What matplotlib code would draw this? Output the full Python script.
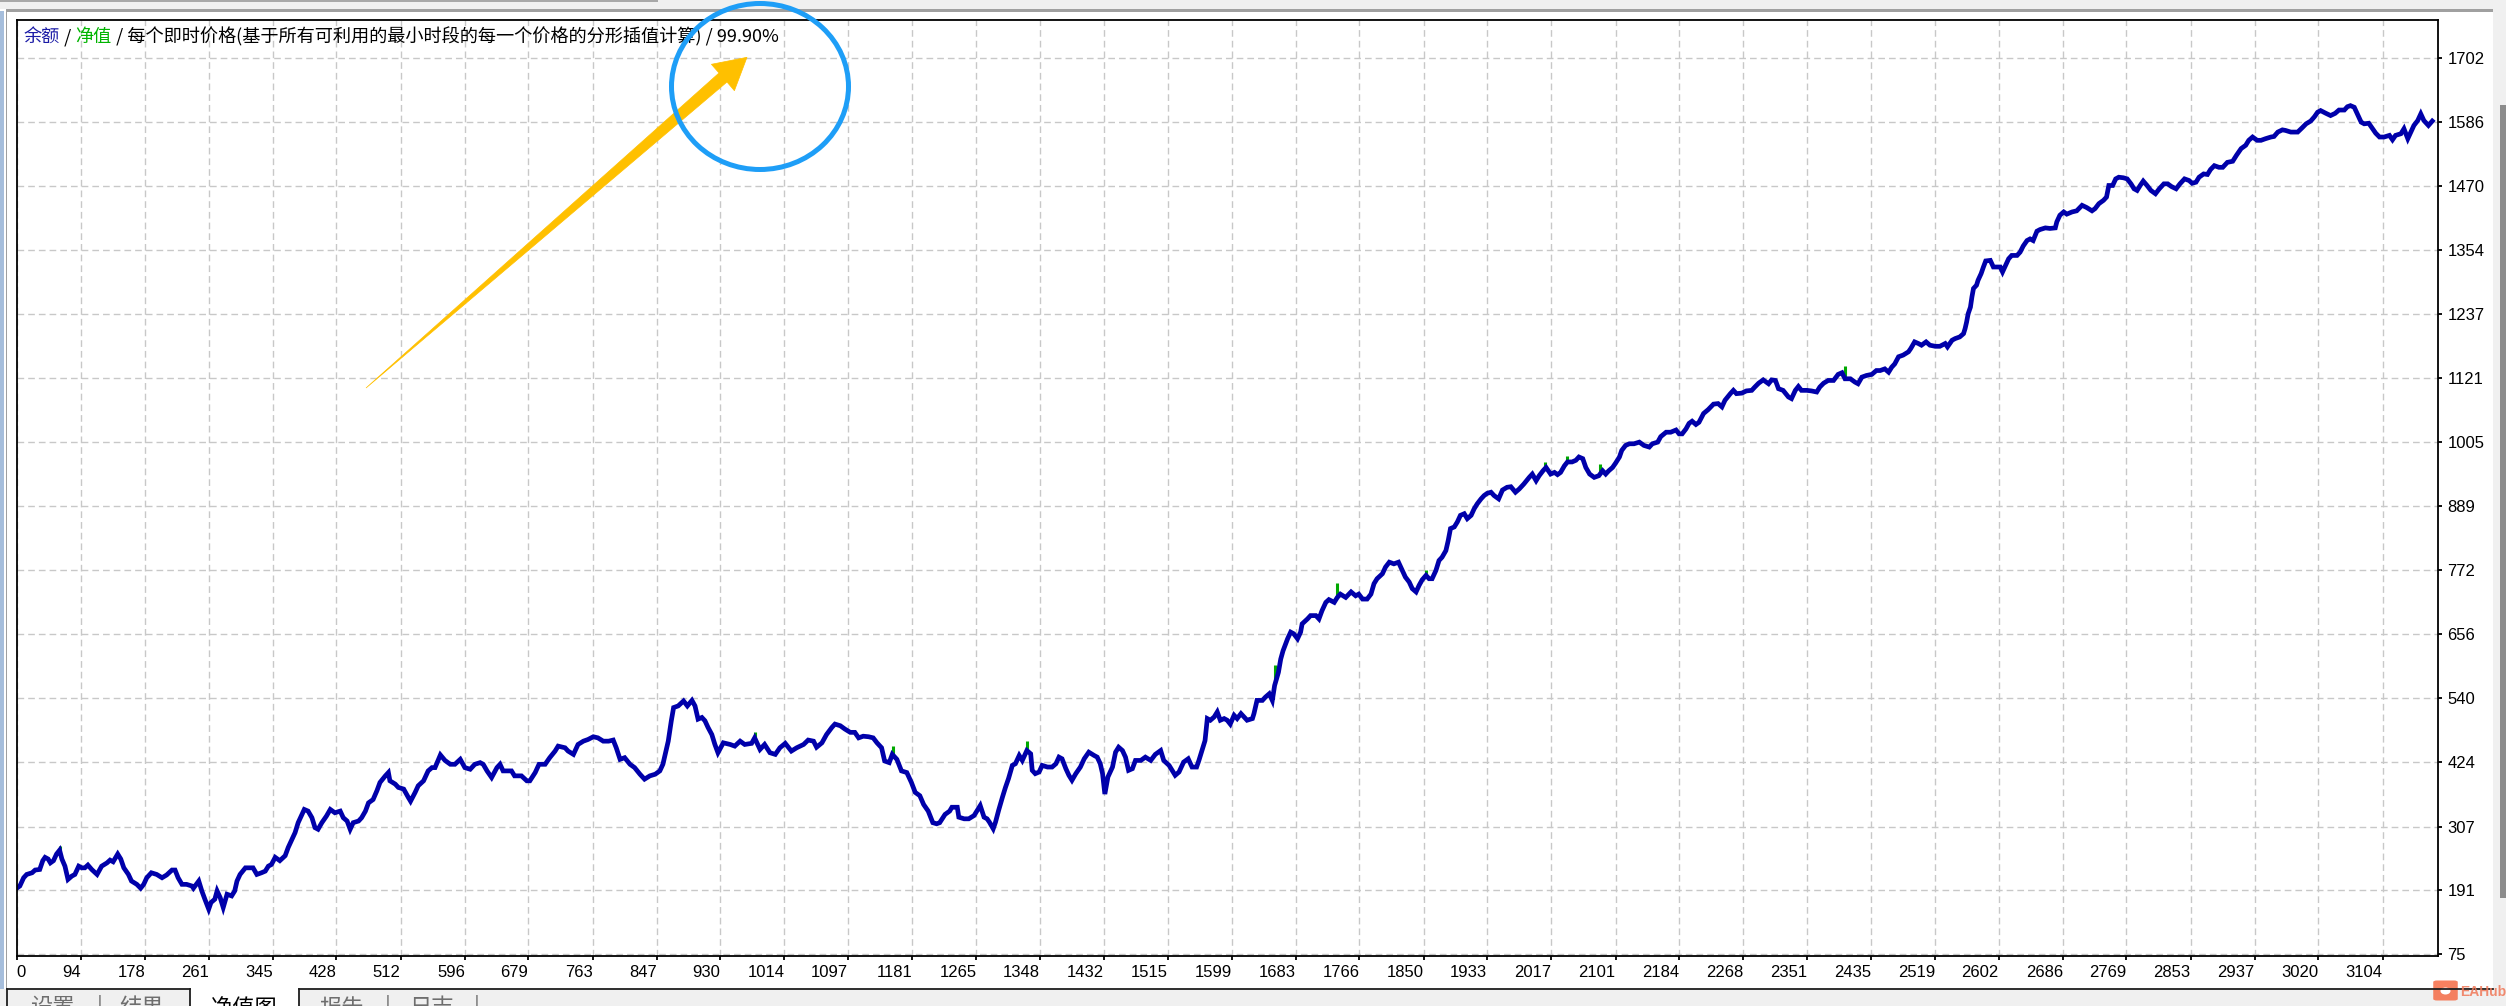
import matplotlib
matplotlib.use("Agg")
import matplotlib.pyplot as plt
from matplotlib.patches import Polygon, Ellipse, Rectangle, FancyBboxPatch
import numpy as np

# balance curve (trade number, balance)
bal_x = [11, 14, 19, 23, 30, 34, 40, 44, 47, 51, 54, 58, 62, 66, 69, 73, 77, 82, 86, 91,
         95, 99, 103, 108, 115, 121, 128, 132, 136, 142, 146, 150, 156, 160, 167, 172, 176, 180, 186, 193,
         200, 206, 213, 217, 221, 226, 232, 239, 241, 248, 252, 256, 261, 264, 269, 272, 276, 280, 285, 291,
         295, 298, 302, 309, 315, 319, 324, 330, 335, 339, 343, 348, 354, 361, 365, 370, 374, 378, 383, 386,
         391, 396, 400, 404, 409, 415, 420, 426, 433, 437, 442, 446, 450, 457, 461, 466, 470, 476, 481, 485,
         492, 496, 498, 505, 509, 516, 522, 525, 531, 535, 542, 548, 553, 557, 564, 570, 577, 583, 590, 596,
         603, 609, 616, 620, 625, 631, 638, 642,
         646, 653, 657, 661, 670, 677, 681, 688, 693, 701, 707, 714, 718, 727, 731, 738, 744, 751, 757, 764,
         770, 777, 784, 790, 794, 799, 805, 812, 818, 825, 831, 838, 845, 851, 855, 859, 862, 866, 869, 875,
         882, 887, 893, 897, 901, 906, 910, 914, 919, 923, 927, 934, 943, 949, 956, 962, 971, 975, 982, 988,
         995, 1002, 1008, 1015, 1023, 1030, 1039, 1045, 1052, 1056, 1063, 1069, 1076, 1080, 1087, 1093, 1100, 1106, 1111, 1117,
         1124, 1130, 1135, 1141, 1145, 1151, 1155, 1161, 1167, 1174, 1180, 1185, 1191, 1196, 1202, 1208, 1213, 1217, 1224, 1230,
         1233, 1240, 1242, 1249, 1255, 1262, 1266, 1270, 1275, 1279, 1282, 1287, 1290, 1294, 1299, 1303, 1307, 1312, 1316, 1321,
         1325, 1331, 1336, 1338, 1342, 1347, 1351, 1358, 1364, 1369, 1373, 1377, 1382, 1386, 1390, 1395, 1401, 1406, 1412, 1419,
         1423, 1427, 1430, 1433, 1437, 1443, 1447, 1451, 1456, 1460, 1464, 1469, 1473, 1480, 1486, 1493, 1499, 1506, 1510, 1517,
         1521, 1525, 1530, 1536, 1542, 1547, 1553, 1556, 1560, 1564, 1567, 1571, 1576, 1580, 1584, 1589, 1593, 1597, 1602, 1606,
         1611, 1615, 1619, 1626, 1628, 1632, 1639, 1643, 1648, 1652, 1655, 1660, 1663, 1666,
         1672, 1676, 1680, 1685, 1689, 1691, 1698, 1702, 1709, 1713, 1717, 1722, 1726, 1733, 1737, 1741, 1748, 1755, 1761, 1765,
         1770, 1776, 1781, 1785, 1789, 1796, 1800, 1805, 1811, 1817, 1822, 1826, 1831, 1835, 1840, 1844, 1848, 1853, 1857, 1861,
         1866, 1870, 1874, 1879, 1882, 1885, 1890, 1894, 1898, 1903, 1907, 1912, 1916, 1920, 1925, 1929, 1933, 1938, 1942, 1948,
         1953, 1959, 1964, 1970, 1975, 1981, 1988, 1992, 1997, 2001, 2006, 2010, 2016, 2021, 2025, 2029, 2034, 2038, 2044, 2049,
         2053, 2058, 2062, 2067, 2073, 2079, 2084, 2088, 2092, 2097, 2101, 2106, 2109, 2114, 2119, 2125, 2132, 2138, 2145, 2149,
         2156, 2160, 2167, 2173, 2180, 2184, 2188, 2193, 2197, 2201, 2206, 2210,
         2216, 2222, 2229, 2235, 2240, 2244, 2251, 2255, 2259, 2266, 2272, 2279, 2283, 2288, 2294, 2301, 2305, 2310, 2314, 2320,
         2327, 2331, 2336, 2340, 2344, 2351, 2357, 2364, 2368, 2373, 2379, 2386, 2392, 2397, 2401, 2408, 2414, 2418, 2423, 2429,
         2436, 2442, 2447, 2453, 2458, 2462, 2466, 2471, 2477, 2484, 2487, 2492, 2497, 2501, 2507, 2512, 2519, 2525, 2532, 2535,
         2541, 2545, 2551, 2556, 2558, 2560, 2562, 2565, 2567, 2569, 2573, 2575, 2579, 2582, 2585, 2591, 2595, 2599, 2604, 2607,
         2610, 2615, 2619, 2626, 2630, 2634, 2639, 2643, 2647, 2652, 2656, 2663, 2669, 2676, 2678, 2682, 2687, 2691, 2698, 2704,
         2711, 2717, 2724, 2728, 2733, 2739, 2743,
         2746, 2751, 2755, 2759, 2765, 2770, 2775, 2779, 2783, 2787, 2791, 2796, 2801, 2807, 2812, 2818, 2823, 2828, 2834, 2839,
         2845, 2851, 2855, 2860, 2864, 2870, 2875, 2879, 2884, 2890, 2895, 2901, 2908, 2913, 2919, 2925, 2929, 2934, 2940, 2945,
         2951, 2958, 2962, 2967, 2973, 2977, 2984, 2993, 2999, 3004, 3010, 3015, 3019, 3023, 3030, 3036, 3042, 3047, 3054, 3058,
         3062, 3067, 3071, 3076, 3080, 3086, 3091, 3095, 3100, 3106, 3113, 3117, 3121, 3128, 3132, 3137, 3141, 3145, 3150, 3154,
         3158, 3164, 3169]
bal_y = [196, 199, 214, 220, 223, 228, 229, 245, 251, 248, 241, 245, 257, 264, 248, 235, 211, 217, 220, 235,
         232, 232, 237, 229, 220, 235, 241, 246, 243, 257, 248, 232, 220, 208, 202, 195, 202, 214, 223, 220,
         214, 219, 228, 228, 214, 202, 202, 199, 195, 208, 190, 175, 157, 169, 175, 190, 178, 160, 184, 181,
         190, 208, 220, 232, 232, 232, 220, 223, 226, 235, 238, 251, 245, 254, 269, 284, 296, 314, 329, 338,
         335, 323, 305, 302, 314, 326, 338, 332, 335, 323, 317, 302, 314, 317, 323, 335, 350, 356, 372, 387,
         399, 405, 390, 384, 378, 375, 360, 353, 369, 381, 390, 408, 414, 414, 437, 427, 420, 420, 429, 414,
         411, 420, 423, 420, 408, 396, 414, 420,
         408, 408, 408, 399, 399, 390, 390, 405, 420, 420, 432, 444, 453, 450, 444, 438, 456, 462, 465, 470,
         468, 462, 462, 464, 450, 429, 432, 420, 414, 402, 393, 399, 402, 408, 420, 444, 462, 499, 523, 526,
         535, 526, 536, 526, 502, 505, 499, 487, 474, 456, 441, 459, 456, 453, 462, 456, 458, 468, 447, 456,
         441, 438, 450, 458, 444, 450, 456, 464, 462, 451, 459, 474, 487, 493, 490, 484, 478, 478, 468, 471,
         470, 468, 459, 450, 426, 423, 438, 429, 408, 405, 387, 369, 363, 347, 335, 314, 312, 314, 329, 335,
         342, 342, 324, 321, 321, 327, 336, 345, 324, 321, 315, 303, 315, 336, 360, 378, 394, 418, 421, 436,
         427, 445, 439, 409, 403, 406, 418, 415, 415, 421, 433, 430, 412, 400, 391, 403, 415, 430, 442, 436,
         433, 421, 403, 366, 397, 415, 442, 451, 445, 433, 409, 412, 427, 427, 433, 427, 438, 445, 427, 418,
         409, 400, 406, 424, 430, 415, 415, 427, 445, 463, 503, 500, 506, 515, 500, 503, 500, 493, 509, 503,
         512, 506, 500, 503, 512, 536, 536, 542, 548, 536, 563, 587, 611, 626,
         648, 660, 657, 648, 660, 675, 684, 690, 690, 684, 699, 714, 719, 714, 723, 729, 723, 733, 726, 729,
         720, 720, 729, 748, 757, 766, 778, 787, 784, 787, 772, 760, 751, 739, 733, 745, 755, 763, 757, 757,
         772, 790, 796, 808, 826, 848, 851, 860, 872, 875, 866, 872, 884, 893, 902, 908, 912, 914, 908, 902,
         918, 923, 924, 914, 920, 929, 941, 947, 935, 944, 953, 959, 947, 950, 946, 950, 962, 969, 969, 972,
         978, 975, 959, 947, 941, 944, 953, 947, 953, 959, 967, 978, 990, 999, 1002, 1002, 1005, 999, 996, 1002,
         1005, 1015, 1023, 1023, 1027, 1020, 1020, 1029, 1039, 1043, 1037, 1041,
         1057, 1064, 1074, 1075, 1069, 1081, 1093, 1099, 1093, 1094, 1098, 1099, 1105, 1112, 1118, 1111, 1118, 1117, 1102, 1099,
         1087, 1084, 1099, 1106, 1099, 1099, 1098, 1096, 1105, 1112, 1117, 1117, 1128, 1131, 1120, 1120, 1114, 1111, 1123, 1126,
         1128, 1135, 1135, 1138, 1132, 1141, 1147, 1160, 1163, 1169, 1175, 1187, 1184, 1181, 1187, 1181, 1179, 1179, 1184, 1178,
         1190, 1193, 1196, 1202, 1211, 1223, 1238, 1250, 1269, 1284, 1290, 1299, 1311, 1323, 1334, 1335, 1323, 1323, 1323, 1314,
         1323, 1338, 1344, 1344, 1350, 1361, 1371, 1374, 1371, 1388, 1391, 1394, 1393, 1394, 1405, 1417, 1423, 1419, 1423, 1425,
         1435, 1431, 1425, 1429, 1438, 1444, 1450,
         1471, 1471, 1483, 1486, 1485, 1483, 1474, 1465, 1462, 1471, 1479, 1471, 1462, 1456, 1465, 1474, 1474, 1469, 1465, 1474,
         1483, 1480, 1475, 1477, 1486, 1492, 1491, 1500, 1507, 1504, 1504, 1513, 1515, 1526, 1538, 1544, 1553, 1559, 1553, 1553,
         1556, 1559, 1560, 1568, 1572, 1571, 1568, 1568, 1576, 1583, 1588, 1596, 1604, 1607, 1602, 1598, 1602, 1608, 1608, 1614,
         1616, 1613, 1601, 1586, 1583, 1584, 1574, 1566, 1559, 1559, 1562, 1554, 1562, 1565, 1574, 1556, 1568, 1580, 1589, 1601,
         1589, 1580, 1588]

# equity spikes above the balance line
eq_x = [66, 975, 1156, 1331, 1656, 1737, 1853, 2009, 2038, 2081, 2401]
eq_top = [272, 478, 453, 462, 600, 750, 773, 969, 979, 966, 1144]

xtick_vals = [94, 178, 261, 345, 428, 512, 596, 679, 763, 847, 930, 1014, 1097, 1181, 1265,
              1348, 1432, 1515, 1599, 1683, 1766, 1850, 1933, 2017, 2101, 2184, 2268, 2351,
              2435, 2519, 2602, 2686, 2769, 2853, 2937, 3020, 3104]
ytick_vals = [75, 191, 307, 424, 540, 656, 772, 889, 1005, 1121, 1237, 1354, 1470, 1586, 1702]

title_parts = [("余额", "#1A1AA6"), (" / ", "#000000"), ("净值", "#00B400"),
               (" / 每个即时价格(基于所有可利用的最小时段的每一个价格的分形插值计算) / 99.90%", "#000000")]
tabs = [("设置", 52), ("|", 100), ("结果", 142), ("净值图", 244), ("报告", 342), ("|", 388), ("日志", 431), ("|", 477)]

plt.rcParams['font.family'] = ['Liberation Sans', 'DejaVu Sans']
cjk = ['Noto Sans CJK SC', 'DejaVu Sans']

W, H = 2506, 1006
fig = plt.figure(figsize=(W / 100, H / 100), dpi=100)
fig.patch.set_facecolor('white')


def fx(x):
    return x / W


def fy(y):
    return 1 - y / H


def frect(x0, y0, x1, y1, **kw):
    r = Rectangle((fx(x0), fy(y1)), fx(x1 - x0), (y1 - y0) / H, transform=fig.transFigure, **kw)
    fig.add_artist(r)
    return r


# window chrome
frect(0, 0, W, 9, facecolor='#F0F0F0', edgecolor='none')
frect(0, 0.5, 658, 2, facecolor='#A8A8A8', edgecolor='none')
frect(6, 9, 2493, 11.5, facecolor='#A0A0A0', edgecolor='none')
frect(0, 11, 4.3, H, facecolor='#A6BEDC', edgecolor='none')
frect(5.7, 11.5, 7.3, 989, facecolor='#A0A0A0', edgecolor='none')
frect(2493, 0, W, H, facecolor='#F0F0F0', edgecolor='none')
frect(2500, 105, W, 898, facecolor='#8C8C8C', edgecolor='none')
frect(0, 989, 2493, H, facecolor='#F0F0F0', edgecolor='none')
frect(190, 989, 299, H, facecolor='white', edgecolor='none')
fig.add_artist(plt.Line2D([fx(6.7), fx(190)], [fy(989), fy(989)], transform=fig.transFigure, color='#1E1E1E', lw=1.3))
fig.add_artist(plt.Line2D([fx(6.7), fx(6.7)], [fy(989), 0], transform=fig.transFigure, color='#1E1E1E', lw=1.3))
fig.add_artist(plt.Line2D([fx(190), fx(190)], [fy(989), 0], transform=fig.transFigure, color='#1E1E1E', lw=1.3))
fig.add_artist(plt.Line2D([fx(299), fx(2493)], [fy(989), fy(989)], transform=fig.transFigure, color='#1E1E1E', lw=1.3))
fig.add_artist(plt.Line2D([fx(299), fx(299)], [fy(989), 0], transform=fig.transFigure, color='#1E1E1E', lw=1.3))
# tab captions are cut by the bottom edge, as in the screenshot
for label, cx in tabs:
    col = '#000000' if label == "净值图" else '#6E6E6E'
    fig.text(fx(cx), fy(1008), label, ha='center', va='center', fontsize=16, color=col, family=cjk)

# plot area
ax = fig.add_axes([fx(16.7), fy(955.5), fx(2438 - 16.7), (955.5 - 20) / H])
x_left, x_right = 9.9, 3176.5
ax.set_xlim(x_left, x_right)
ax.set_ylim(72.8, 1771.5)

ax.vlines(eq_x, np.interp(eq_x, bal_x, bal_y), eq_top, color='#00A800', lw=2.2, zorder=2)
ax.plot(bal_x, bal_y, color='#0000AA', lw=3.4, zorder=3, solid_joinstyle='miter')

ax.set_xticks([x_left] + xtick_vals)
ax.set_xticklabels(['0'] + [str(v) for v in xtick_vals])
ax.set_yticks(ytick_vals)
ax.set_yticklabels([str(v) for v in ytick_vals])
ax.yaxis.tick_right()
ax.tick_params(axis='both', direction='out', length=2.7, width=1.3, pad=4.2, labelsize=12, colors='black')
for i, lbl in enumerate(ax.get_xticklabels()):
    lbl.set_ha('left' if i == 0 else 'right')
ax.grid(True, color='#C8C8C8', linestyle=(0, (4.8, 2.9)), linewidth=1.0, zorder=1)
for s in ax.spines.values():
    s.set_linewidth(1.3)
    s.set_color('black')
    s.set_zorder(4)

# header line of the chart
prev = fig.text(fx(24), fy(37), title_parts[0][0], color=title_parts[0][1], fontsize=13.1,
                family=cjk, ha='left', va='center')
for txt, col in title_parts[1:]:
    prev = ax.annotate(txt, xy=(1, 0), xycoords=prev, ha='left', va='bottom',
                       color=col, fontsize=13.1, family=cjk, annotation_clip=False)

# marker drawn on the screenshot: arrow and circle
arrow = Polygon([(fx(366), fy(388)), (fx(727), fy(82)), (fx(734.4), fy(90.7)), (fx(747), fy(57.3)),
                 (fx(711.4), fy(64.3)), (fx(719), fy(73))],
                closed=True, transform=fig.transFigure, facecolor='#FFC000', edgecolor='#FFC000', lw=0.5)
fig.add_artist(arrow)
ring = Ellipse((fx(760), fy(86.5)), 177 / W, 166 / H, transform=fig.transFigure,
               facecolor='none', edgecolor='#1E9EF7', lw=3.6)
fig.add_artist(ring)

# watermark
badge = FancyBboxPatch((fx(2437), fy(999)), 17 / W, 17 / H, boxstyle='round,pad=0.0015',
                       transform=fig.transFigure, facecolor='#F5734F', edgecolor='none', alpha=0.9)
fig.add_artist(badge)
fig.add_artist(Ellipse((fx(2445.5), fy(991)), 10 / W, 7 / H, transform=fig.transFigure,
                       facecolor='white', edgecolor='none'))
fig.text(fx(2460), fy(992), "EAHub", ha='left', va='center', fontsize=10, fontweight='bold',
         color='#F07858', alpha=0.85)

fig.savefig('out.png', dpi=100)
